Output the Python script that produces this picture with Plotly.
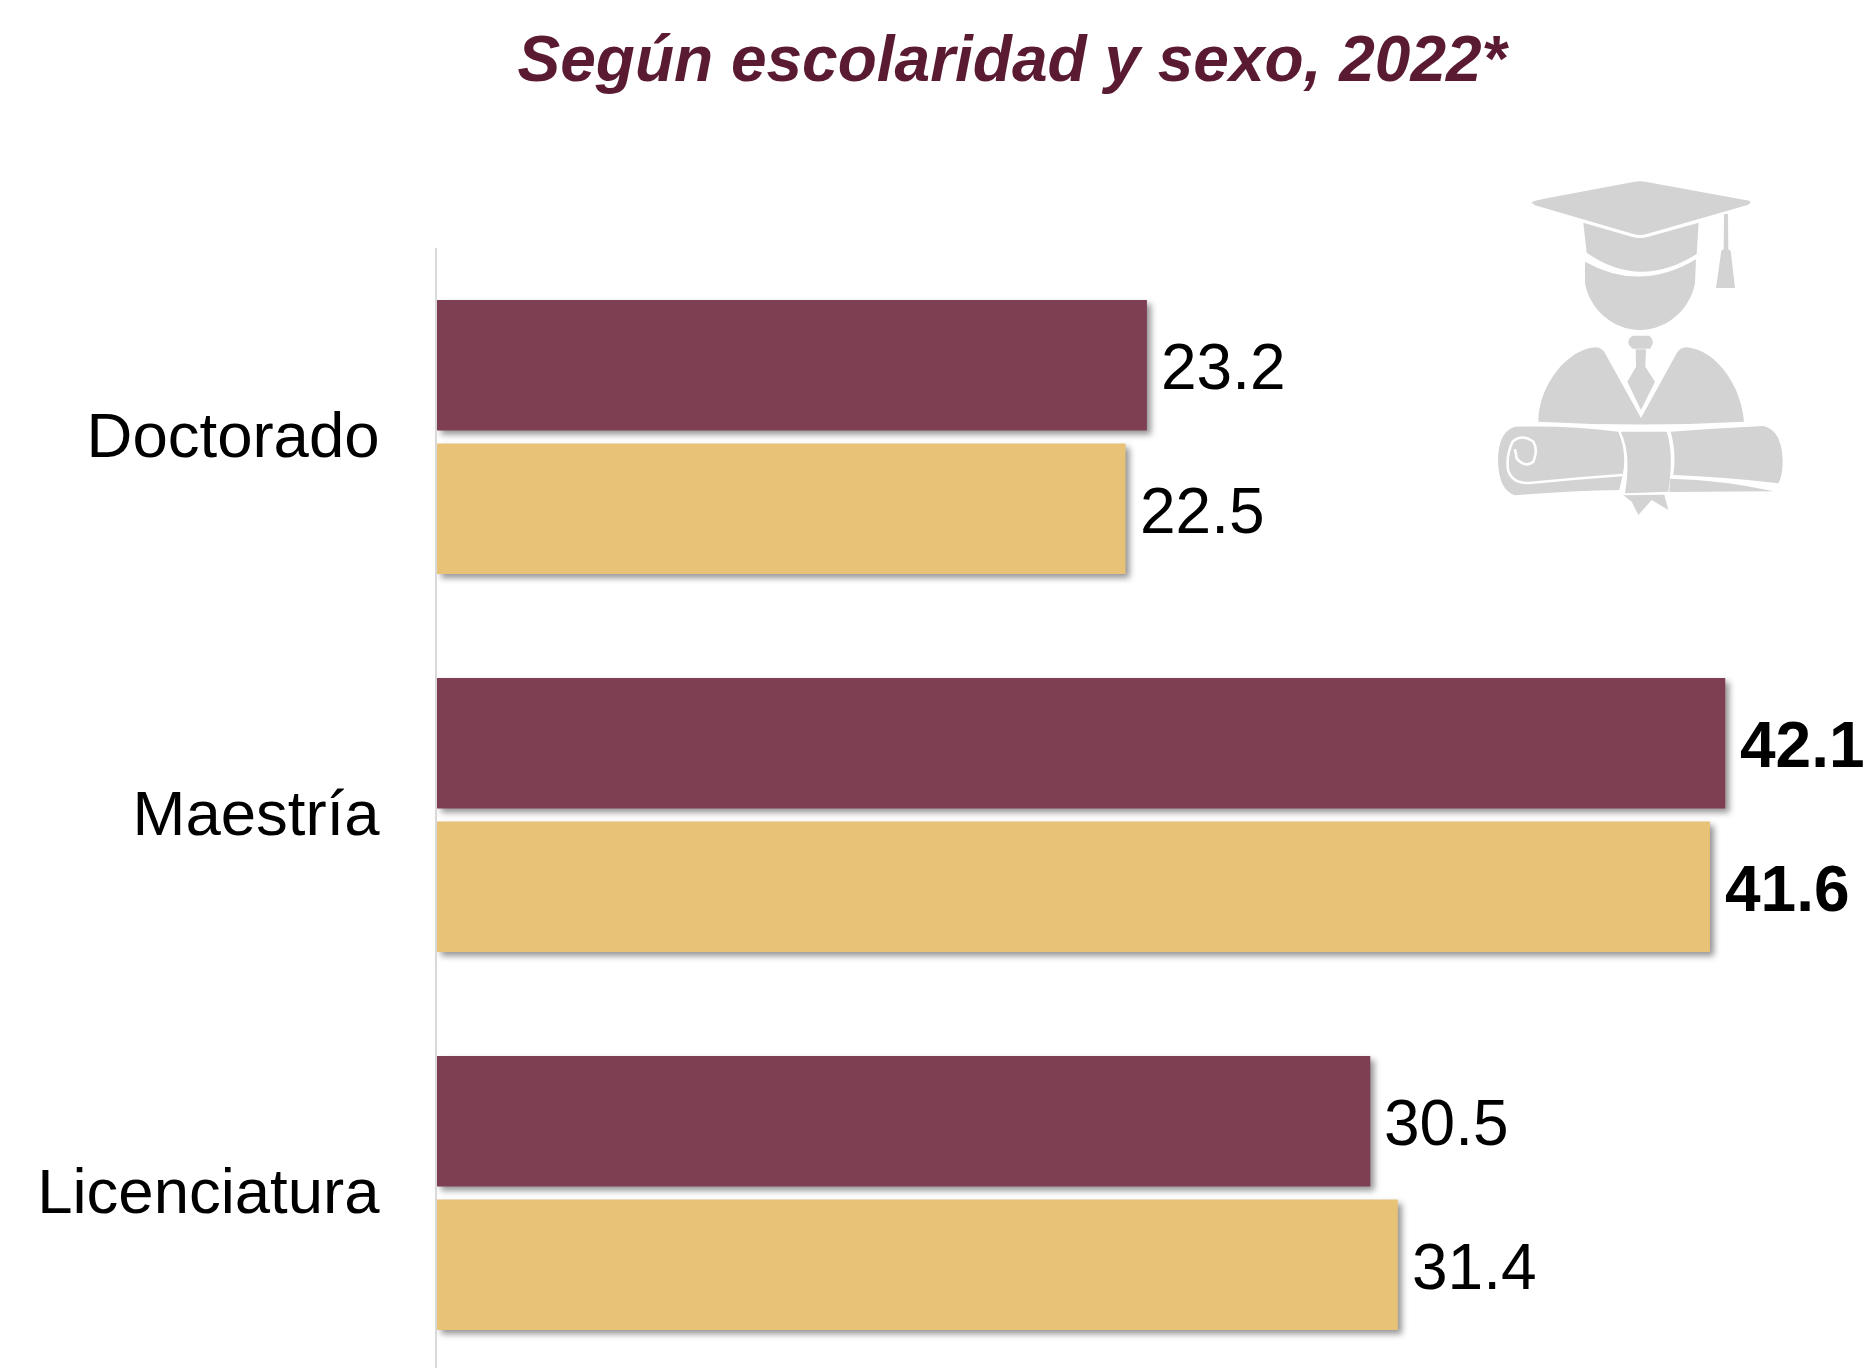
import plotly.graph_objects as go

# ---- data ----
categories = ["Doctorado", "Maestría", "Licenciatura"]
series_a = [23.2, 42.1, 30.5]
series_b = [22.5, 41.6, 31.4]
bold_a = [False, True, False]
bold_b = [False, True, False]
title_text = "Según escolaridad y sexo, 2022*"

# ---- style ----
W, H = 1869, 1368
ML, MT = 437, 248
COLOR_A = "#7F3F53"
COLOR_B = "#E8C277"
ICON = "#D3D3D3"
FONT = "Liberation Sans"
SLOT_PX = 71.7


def P(zx, zy):
    """Icon drawing coordinates (3x crop space) to paper coordinates."""
    px = 1470 + zx / 3
    py = 160 + zy / 3
    return f"{(px - ML) / (W - ML):.5f},{1 - (py - MT) / (H - MT):.5f}"


def path(*segs):
    out = []
    for cmd, *pts in segs:
        out.append(cmd + " ".join(P(*p) for p in pts))
    return " ".join(out)


icon_fill = [
    # cap board
    path(("M", (185, 128)), ("Q", (190, 122), (230, 115)), ("L", (490, 66)), ("Q", (510, 62), (530, 66)),
         ("L", (838, 122)), ("Q", (845, 128), (835, 134)), ("L", (530, 222)), ("Q", (510, 228), (490, 222)),
         ("L", (195, 136)), ("Z",)),
    # cap band
    path(("M", (340, 188)), ("L", (490, 232)), ("Q", (510, 236), (530, 232)), ("L", (686, 188)),
         ("L", (680, 282)), ("Q", (510, 390), (350, 278)), ("Z",)),
    # head
    path(("M", (345, 305)), ("Q", (510, 398), (678, 298)), ("L", (675, 370)),
         ("C", (660, 450), (590, 510), (510, 510)), ("C", (430, 510), (360, 450), (345, 370)), ("Z",)),
    # tassel
    path(("M", (762, 162)), ("L", (774, 162)), ("L", (775, 268)), ("L", (782, 272)), ("L", (795, 384)),
         ("L", (738, 384)), ("L", (754, 272)), ("L", (761, 268)), ("Z",)),
    # tie knot
    path(("M", (488, 527)), ("L", (538, 527)), ("Q", (558, 545), (540, 566)), ("L", (488, 566)),
         ("Q", (462, 545), (488, 527)), ("Z",)),
    # tie
    path(("M", (497, 568)), ("L", (528, 568)), ("L", (526, 620)), ("L", (555, 665)), ("L", (513, 750)),
         ("L", (472, 665)), ("L", (498, 620)), ("Z",)),
    # shoulders
    path(("M", (205, 785)), ("C", (205, 680), (290, 565), (380, 562)), ("Q", (398, 565), (405, 580)),
         ("L", (513, 774)), ("L", (620, 580)), ("Q", (630, 562), (650, 562)),
         ("C", (740, 570), (815, 680), (822, 785)), ("Q", (510, 802), (205, 785)), ("Z",)),
    # scroll, left roll
    path(("M", (135, 800)), ("Q", (300, 796), (445, 815)), ("Q", (472, 880), (458, 945)), ("L", (448, 990)),
         ("Q", (300, 992), (135, 1006)), ("Q", (85, 990), (84, 900)), ("Q", (85, 815), (135, 800)), ("Z",)),
    # scroll, central band
    path(("M", (452, 815)), ("L", (590, 815)), ("Q", (612, 880), (595, 995)), ("L", (465, 1000)),
         ("Q", (485, 880), (452, 815)), ("Z",)),
    # ribbon tail
    path(("M", (460, 1006)), ("L", (583, 1004)), ("L", (595, 1050)), ("L", (545, 1020)), ("L", (505, 1065)),
         ("L", (485, 1025)), ("Z",)),
    # scroll, right roll
    path(("M", (602, 815)), ("Q", (740, 805), (880, 798)), ("Q", (935, 810), (938, 900)),
         ("Q", (938, 950), (925, 970)), ("Q", (760, 950), (610, 945)), ("Q", (620, 880), (602, 815)), ("Z",)),
    path(("M", (600, 956)), ("Q", (760, 960), (912, 994)), ("L", (598, 996)), ("Z",)),
]
icon_white = [
    path(("M", (135, 868)), ("L", (140, 895)), ("Q", (165, 925), (190, 905)), ("Q", (205, 870), (190, 845)),
         ("Q", (155, 820), (128, 845)), ("Q", (108, 885), (114, 930)), ("Q", (128, 975), (185, 968)),
         ("Q", (320, 955), (458, 945))),
]

shapes = [
    dict(type="path", xref="paper", yref="paper", path=p, fillcolor=ICON, line=dict(width=0), layer="above")
    for p in icon_fill
] + [
    dict(type="path", xref="paper", yref="paper", path=p, line=dict(color="white", width=2.5), layer="above")
    for p in icon_white
]

fig = go.Figure()
fig.add_bar(y=categories, x=series_a, orientation="h", marker=dict(color=COLOR_A, line=dict(width=0)),
            name="Serie A", showlegend=False)
fig.add_bar(y=categories, x=series_b, orientation="h", marker=dict(color=COLOR_B, line=dict(width=0)),
            name="Serie B", showlegend=False)

annotations = []
for vals, bolds, shift in ((series_a, bold_a, -SLOT_PX), (series_b, bold_b, SLOT_PX)):
    for cat, v, b in zip(categories, vals, bolds):
        annotations.append(dict(
            x=v, y=cat, xref="x", yref="y", text=(f"<b>{v:.1f}</b>" if b else f"{v:.1f}"),
            showarrow=False, xanchor="left", yanchor="middle", xshift=(13 if b else 12), yshift=-shift - 2,
            font=dict(family=FONT, size=64, color="#000000"),
        ))

fig.update_layout(
    width=W, height=H, autosize=False,
    margin=dict(l=ML, r=0, t=MT, b=0, pad=0),
    paper_bgcolor="white", plot_bgcolor="white",
    barmode="group", bargap=0.241, bargroupgap=0.09,
    showlegend=False,
    font=dict(family=FONT, color="#000000"),
    title=dict(
        text=f"<b><i>{title_text}</i></b>",
        x=1012 / W, xref="container", xanchor="center",
        y=1 - 59 / H, yref="container", yanchor="middle",
        font=dict(family=FONT, size=64, color="#5A1A32"),
    ),
    xaxis=dict(range=[0, (W - ML) / 30.6], visible=False, fixedrange=True),
    yaxis=dict(
        type="category", categoryorder="array", categoryarray=categories,
        range=[(H - MT) / 378 - 0.5, -0.5], autorange=False,
        showline=True, linecolor="#D9D9D9", linewidth=1.5,
        ticks="outside", ticklen=43, tickcolor="rgba(0,0,0,0)", tickwidth=1,
        ticklabelshift=2,
        tickfont=dict(family=FONT, size=63.5, color="#000000"),
        showgrid=False, zeroline=False, fixedrange=True, automargin=False,
    ),
    annotations=annotations,
    shapes=shapes,
)

post = """
document.body.style.margin='0';
document.body.style.overflow='hidden';
var st=document.createElement('style');
st.textContent='.barlayer .point path{filter:drop-shadow(4px 4px 3px rgba(0,0,0,0.42));}'
 + '.layer-above .shapelayer path{filter:blur(0.6px);}';
document.head.appendChild(st);
"""
fig.write_html("out.html", config=dict(displayModeBar=False), post_script=post)
